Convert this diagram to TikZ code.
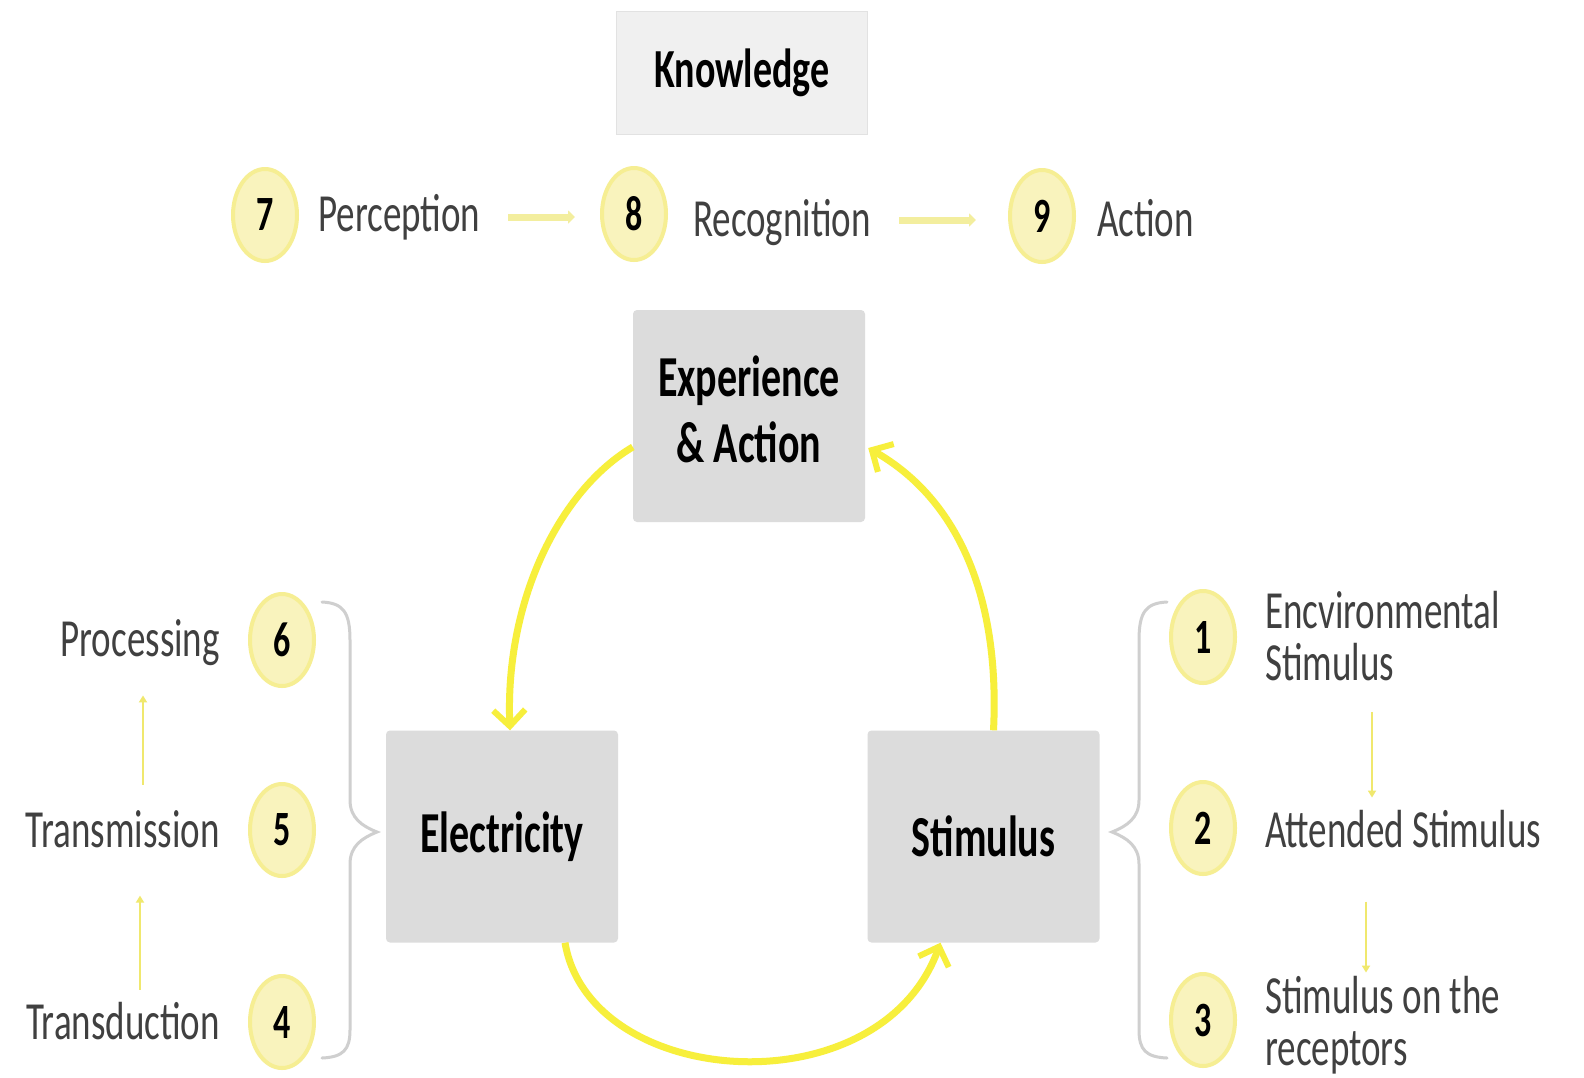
\documentclass[tikz,border=0pt]{standalone}
\usepackage{fontspec}
\setmainfont{Carlito}
\usetikzlibrary{shapes.geometric,arrows.meta,calc}
\definecolor{ylw}{HTML}{F7EF3C}
\definecolor{ylwpale}{HTML}{F3EE9E}
\definecolor{ylwthin}{HTML}{F0E86E}
\definecolor{numfill}{HTML}{F9F3BD}
\definecolor{numrim}{HTML}{F6EE93}
\definecolor{boxgray}{HTML}{DCDCDC}
\definecolor{kgray}{HTML}{F0F0F0}
\definecolor{kborder}{HTML}{E2E2E2}
\definecolor{labelgray}{HTML}{404040}
\definecolor{bracegray}{HTML}{CFCFCF}
\newcommand{\vst}[1]{\scalebox{1}[1.45]{#1}}
\begin{document}
\begin{tikzpicture}[x=1pt,y=-1pt,
  lbl/.style={inner sep=0pt,text=labelgray,font=\fontsize{37}{36}\selectfont},
  num/.style={ellipse,minimum width=64pt,minimum height=92pt,inner sep=0pt,fill=numfill,draw=numrim,line width=4pt,font=\bfseries\fontsize{34}{34}\selectfont},
  bigbox/.style={fill=boxgray,rounded corners=4pt,minimum width=232pt,minimum height=212pt,inner sep=0pt,font=\bfseries\fontsize{40}{46}\selectfont,align=center},
  cyc/.style={draw=ylw,line width=7pt,-{Straight Barb[length=16pt,width=32pt,line width=6pt]}},
  toparr/.style={draw=ylwpale,line width=7pt,-{Triangle[length=7pt,width=13pt]}},
  sidearr/.style={draw=ylwthin,line width=2.5pt,-{Triangle[length=7pt,width=8pt]}},
  bracestyle/.style={draw=bracegray,line width=3pt,line cap=round}
]
\useasboundingbox (0,0) rectangle (1584,1077);
\fill[white] (0,0) rectangle (1584,1077);

% Knowledge
\node[fill=kgray,draw=kborder,line width=1.5pt,minimum width=251pt,minimum height=123pt,inner sep=0pt,font=\bfseries\fontsize{38}{40}\selectfont] (know) at (742,73) {\vst{Knowledge}};

% top row
\node[num] (c7) at (265,215) {\vst{7}};
\node[lbl,anchor=base west] (perc) at (318,231) {\vst{Perception}};
\node[num] (c8) at (634,214) {\vst{8}};
\node[lbl,anchor=base west] (recog) at (693,236) {\vst{Recognition}};
\node[num] (c9) at (1042,216) {\vst{9}};
\node[lbl,anchor=base west] (act) at (1097,236) {\vst{Action}};
\draw[toparr] ([xshift=28pt,yshift=-2pt]perc.east |- c7) -- ([xshift=-25pt,yshift=-2pt]c8.west |- c7);
\draw[toparr] ([xshift=28pt,yshift=-4pt]recog.east |- c9) -- ([xshift=-32pt,yshift=-4pt]c9.west);

% big boxes
\node[bigbox] (exp) at (749,416) {\vst{\begin{tabular}{@{}c@{}}Experience\\\& Action\end{tabular}}};
\node[bigbox] (elec) at (502,836.5) {\vst{Electricity}};
\node[bigbox] (stim) at (983.5,836.5) {\vst{Stimulus}};

% cycle arrows
\draw[cyc] ([yshift=-31pt]exp.west) .. controls (560,490) and (505,600) .. ([xshift=8pt]elec.north);
\draw[cyc] ([xshift=10pt]stim.north) .. controls (1000,600) and (960,500) .. ([xshift=3pt,yshift=-32pt]exp.east);
\draw[cyc] ([xshift=63pt]elec.south) .. controls (590,1090) and (880,1110) .. ([xshift=-43pt]stim.south);

% left column
\node[num] (c6) at (282,640) {\vst{6}};
\node[num] (c5) at (282,830) {\vst{5}};
\node[num] (c4) at (282,1022) {\vst{4}};
\node[lbl,anchor=base east] (proc) at (220,656) {\vst{Processing}};
\node[lbl,anchor=base east] (trans) at (220,847) {\vst{Transmission}};
\node[lbl,anchor=base east] (tdx) at (220,1039) {\vst{Transduction}};
\draw[sidearr] ([xshift=-77pt,yshift=25pt]trans.north east) -- ([xshift=-77pt,yshift=-30pt]proc.south east);
\draw[sidearr] ([xshift=-80pt,yshift=12pt]tdx.north east) -- ([xshift=-80pt,yshift=-48pt]trans.south east);

% right column
\node[num] (c1) at (1203,637) {\vst{1}};
\node[num] (c2) at (1203,828) {\vst{2}};
\node[num] (c3) at (1203,1020) {\vst{3}};
\node[lbl,anchor=base west] (env) at (1265,628) {\vst{\begin{tabular}[t]{@{}l@{}}Encvironmental\\Stimulus\end{tabular}}};
\node[lbl,anchor=base west] (att) at (1265,847) {\vst{Attended Stimulus}};
\node[lbl,anchor=base west] (rec) at (1265,1013) {\vst{\begin{tabular}[t]{@{}l@{}}Stimulus on the\\receptors\end{tabular}}};
\draw[sidearr] ([xshift=107pt,yshift=-15pt]env.south west) -- ([xshift=107pt,yshift=12pt]att.north west);
\draw[sidearr] ([xshift=101pt,yshift=-54pt]att.south west) -- ([xshift=101pt,yshift=3pt]rec.north west);

% braces
\draw[bracestyle] (322,602) .. controls (343,603) and (350,612) .. (350,640) -- (350,800) .. controls (350,818) and (362,826) .. (377,832) .. controls (362,838) and (350,846) .. (350,864) -- (350,1030) .. controls (350,1050) and (343,1057) .. (322,1058);
\draw[bracestyle] (1167,602) .. controls (1146,603) and (1139,612) .. (1139,640) -- (1139,800) .. controls (1139,818) and (1127,826) .. (1112,832) .. controls (1127,838) and (1139,846) .. (1139,864) -- (1139,1030) .. controls (1139,1050) and (1146,1057) .. (1167,1058);
\end{tikzpicture}
\end{document}
